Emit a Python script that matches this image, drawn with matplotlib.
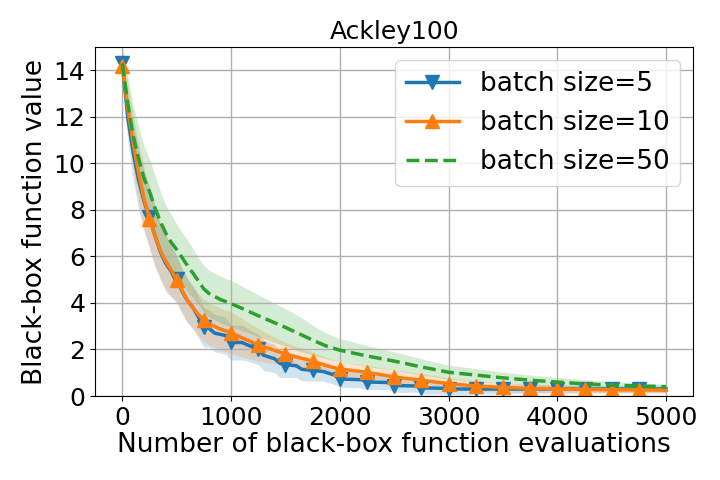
import numpy as np
import matplotlib
matplotlib.use("Agg")
import matplotlib.pyplot as plt

title = "Ackley100"
xlabel = "Number of black-box function evaluations"
ylabel = "Black-box function value"
labels = ["batch size=5", "batch size=10", "batch size=50"]

# batch size = 5
x_b5 = [0, 50, 100, 150, 200, 250, 300, 350, 400, 450, 500, 550, 600, 650, 700, 750,
        800, 850, 950, 1000, 1100, 1150, 1250, 1300, 1400, 1450, 1500, 1600, 1650,
        1750, 1850, 1950, 2000, 2200, 2250, 2450, 2500, 2700, 2750, 2950, 3000,
        3250, 3500, 3750, 4000, 4250, 4500, 4750, 5000]
y_b5 = [14.3, 12.0, 10.5, 9.3, 8.4, 7.7, 6.9, 6.2, 5.7, 5.35, 5.05, 4.5, 4.1, 3.8, 3.4, 2.95,
        2.9, 2.7, 2.6, 2.3, 2.3, 2.2, 2.0, 1.75, 1.6, 1.4, 1.35, 1.3, 1.15,
        1.1, 1.05, 0.9, 0.73, 0.7, 0.6, 0.58, 0.45, 0.43, 0.35, 0.33, 0.3,
        0.3, 0.3, 0.3, 0.3, 0.3, 0.3, 0.3, 0.3]
sd_b5 = [0.6, 1.0, 1.2, 1.3, 1.3, 1.3, 1.3, 1.2, 1.2, 1.1, 1.0, 0.95, 0.95, 0.9, 0.9, 0.85,
         0.8, 0.8, 0.8, 0.75, 0.75, 0.7, 0.65, 0.65, 0.6, 0.6, 0.55, 0.5, 0.5,
         0.45, 0.42, 0.4, 0.35, 0.35, 0.33, 0.3, 0.3, 0.27, 0.26, 0.25, 0.25,
         0.22, 0.2, 0.18, 0.17, 0.16, 0.15, 0.15, 0.15]

# batch size = 10 and 50
x_b10 = [0, 50, 100, 150, 200, 250, 300, 350, 400, 450, 500, 600, 700, 750, 800, 900,
         1000, 1125, 1250, 1375, 1500, 1625, 1750, 1875, 2000, 2250, 2500, 2750,
         3000, 3250, 3500, 3750, 4000, 4250, 4500, 4750, 5000]
y_b10 = [14.2, 12.4, 10.9, 9.6, 8.5, 7.6, 6.9, 6.25, 5.8, 5.4, 5.0, 4.1, 3.5, 3.25, 3.1, 2.88,
         2.72, 2.45, 2.2, 2.0, 1.8, 1.65, 1.5, 1.3, 1.16, 1.02, 0.82, 0.68,
         0.53, 0.43, 0.37, 0.33, 0.3, 0.28, 0.27, 0.26, 0.25]
sd_b10 = [0.6, 1.0, 1.2, 1.3, 1.3, 1.3, 1.3, 1.2, 1.2, 1.1, 1.0, 0.95, 0.9, 0.9, 0.9, 0.9,
          0.9, 0.8, 0.7, 0.6, 0.5, 0.45, 0.4, 0.35, 0.3, 0.3, 0.3, 0.28,
          0.25, 0.22, 0.2, 0.18, 0.17, 0.16, 0.15, 0.15, 0.15]

x_b50 = x_b10
y_b50 = [14.3, 12.6, 11.2, 10.2, 9.35, 8.8, 8.1, 7.5, 7.0, 6.6, 6.3, 5.6, 4.95, 4.6, 4.4, 4.15,
         3.97, 3.72, 3.45, 3.2, 2.95, 2.68, 2.4, 2.15, 1.97, 1.72, 1.5, 1.25,
         1.02, 0.9, 0.78, 0.68, 0.6, 0.52, 0.47, 0.43, 0.4]
sd_b50 = [0.8, 1.2, 1.3, 1.4, 1.4, 1.4, 1.4, 1.3, 1.2, 1.2, 1.1, 1.1, 1.0, 1.0, 1.0, 1.0,
          1.0, 0.95, 0.9, 0.85, 0.8, 0.75, 0.65, 0.55, 0.5, 0.45, 0.4, 0.35,
          0.3, 0.28, 0.25, 0.22, 0.2, 0.18, 0.15, 0.12, 0.1]

xticks = [0, 1000, 2000, 3000, 4000, 5000]
yticks = [0, 2, 4, 6, 8, 10, 12, 14]

fig = plt.figure(figsize=(7.2, 4.8), dpi=100)
ax = fig.add_axes([0.132, 0.175, 0.831, 0.727])

def marks(xs):
    return [i for i, v in enumerate(xs) if v % 250 == 0 and v < 5000]

xb5 = np.array(x_b5); yb5 = np.array(y_b5); sb5 = np.array(sd_b5)
xb10 = np.array(x_b10); yb10 = np.array(y_b10); sb10 = np.array(sd_b10)
xb50 = np.array(x_b50); yb50 = np.array(y_b50); sb50 = np.array(sd_b50)

ax.plot(xb5, yb5, color="C0", lw=2.5, marker="v", ms=10, markevery=marks(x_b5),
        label=labels[0])
ax.fill_between(xb5, yb5 - sb5, yb5 + sb5, color="C0", alpha=0.2, lw=0)
ax.plot(xb10, yb10, color="C1", lw=2.5, marker="^", ms=10, markevery=marks(x_b10),
        label=labels[1])
ax.fill_between(xb10, yb10 - sb10, yb10 + sb10, color="C1", alpha=0.2, lw=0)
ax.plot(xb50, yb50, color="C2", lw=2.5, ls="--", label=labels[2])
ax.fill_between(xb50, yb50 - sb50, yb50 + sb50, color="C2", alpha=0.2, lw=0)

ax.set_xlim(-250, 5250)
ax.set_ylim(0, 15)
ax.set_xticks(xticks)
ax.set_yticks(yticks)
ax.tick_params(labelsize=18)
ax.grid(True, color="#b0b0b0", lw=1.0)
ax.set_title(title, fontsize=18)
ax.set_xlabel(xlabel, fontsize=19, labelpad=2)
ax.set_ylabel(ylabel, fontsize=19, labelpad=4)
ax.legend(loc="upper right", fontsize=19)

fig.savefig("out.png", dpi=100)
